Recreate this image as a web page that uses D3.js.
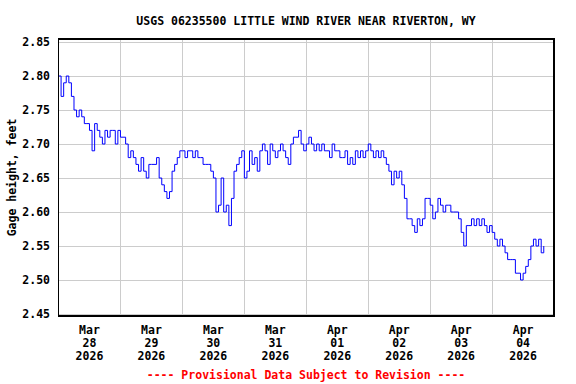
<!DOCTYPE html>
<html>
<head>
<meta charset="utf-8">
<script src="https://cdn.jsdelivr.net/npm/d3@7"></script>
<style>
  body { margin: 0; background: #fff; }
  text { font-family: "DejaVu Sans Mono", "Liberation Mono", monospace; font-weight: bold; font-size: 11.5px; fill: #000; }
  .grid line { stroke: #cccccc; stroke-width: 1; shape-rendering: crispEdges; }
  .frame { fill: none; stroke: #000; stroke-width: 1.2; shape-rendering: crispEdges; }
  .gage { fill: none; stroke: #0000ff; stroke-width: 1; }
  .footer { fill: #ff0000; }
</style>
</head>
<body>
<script>
//Global variables
const width = 576;
const height = 384;
const plotLeft = 58.5, plotRight = 554.1;
const plotTop = 39, plotBottom = 316;
const parseTime = d3.timeParse("%Y-%m-%d");

//Data: hourly gage height (feet), one array per day
const dayStarts = ["2026-03-28", "2026-03-29", "2026-03-30", "2026-03-31",
                   "2026-04-01", "2026-04-02", "2026-04-03", "2026-04-04"];
const gageMar28 = [2.80, 2.77, 2.79, 2.80, 2.79, 2.77, 2.75, 2.74, 2.75, 2.74, 2.73, 2.73,
                   2.72, 2.69, 2.73, 2.72, 2.71, 2.70, 2.72, 2.71, 2.72, 2.72, 2.70, 2.72];
const gageMar29 = [2.71, 2.71, 2.70, 2.68, 2.69, 2.68, 2.67, 2.66, 2.68, 2.66, 2.65, 2.67,
                   2.67, 2.67, 2.68, 2.65, 2.64, 2.63, 2.62, 2.63, 2.66, 2.67, 2.68, 2.69];
const gageMar30 = [2.69, 2.68, 2.69, 2.69, 2.68, 2.69, 2.68, 2.68, 2.67, 2.67, 2.67, 2.66,
                   2.65, 2.60, 2.61, 2.65, 2.60, 2.61, 2.58, 2.62, 2.66, 2.67, 2.68, 2.69];
const gageMar31 = [2.65, 2.66, 2.69, 2.67, 2.68, 2.66, 2.69, 2.70, 2.69, 2.67, 2.70, 2.69,
                   2.68, 2.69, 2.70, 2.69, 2.68, 2.67, 2.70, 2.71, 2.71, 2.72, 2.70, 2.69];
const gageApr01 = [2.70, 2.71, 2.70, 2.69, 2.70, 2.69, 2.70, 2.69, 2.69, 2.68, 2.70, 2.69,
                   2.69, 2.68, 2.68, 2.69, 2.67, 2.68, 2.67, 2.69, 2.68, 2.69, 2.68, 2.69];
const gageApr02 = [2.70, 2.69, 2.68, 2.69, 2.68, 2.69, 2.68, 2.67, 2.66, 2.64, 2.66, 2.65,
                   2.66, 2.64, 2.62, 2.59, 2.59, 2.58, 2.57, 2.59, 2.58, 2.59, 2.62, 2.62];
const gageApr03 = [2.61, 2.59, 2.60, 2.62, 2.61, 2.60, 2.61, 2.61, 2.60, 2.60, 2.60, 2.59,
                   2.57, 2.55, 2.58, 2.58, 2.59, 2.58, 2.59, 2.58, 2.59, 2.58, 2.57, 2.58];
const gageApr04 = [2.57, 2.56, 2.55, 2.56, 2.55, 2.54, 2.53, 2.53, 2.53, 2.51, 2.51, 2.50,
                   2.51, 2.52, 2.53, 2.55, 2.56, 2.55, 2.56, 2.54, 2.55];
const gageDays = [gageMar28, gageMar29, gageMar30, gageMar31, gageApr01, gageApr02, gageApr03, gageApr04];

//Tick labels
const yTicks = [2.45, 2.50, 2.55, 2.60, 2.65, 2.70, 2.75, 2.80, 2.85];
const xTickMonths = ["Mar", "Mar", "Mar", "Mar", "Apr", "Apr", "Apr", "Apr"];
const xTickDays = ["28", "29", "30", "31", "01", "02", "03", "04"];
const xTickYears = ["2026", "2026", "2026", "2026", "2026", "2026", "2026", "2026"];

const title = "USGS 06235500 LITTLE WIND RIVER NEAR RIVERTON, WY";
const yLabel = "Gage height, feet";
const footer = "---- Provisional Data Subject to Revision ----";

//Build point list
const data = [];
gageDays.forEach((vals, i) => {
    const start = parseTime(dayStarts[i]);
    vals.forEach((v, h) => data.push({ time: d3.timeHour.offset(start, h), value: v }));
});

//Scales
const xStart = parseTime(dayStarts[0]);
const xEnd = d3.timeDay.offset(parseTime(dayStarts[dayStarts.length - 1]), 1);
const xScale = d3.scaleTime()
    .domain([xStart, xEnd])
    .range([plotLeft, plotRight]);

const yScale = d3.scaleLinear()
    .domain([2.45, 2.85])
    .range([314, 42]);

//SVG element
const svg = d3.select("body")
    .append("svg")
    .attr("width", width)
    .attr("height", height);

//Gridlines
const dayTicks = d3.timeDay.range(d3.timeDay.offset(xStart, 1), xEnd);
const grid = svg.append("g").attr("class", "grid");
grid.selectAll(".vgrid")
    .data(dayTicks)
    .join("line")
    .attr("x1", d => Math.round(xScale(d)) + 0.5)
    .attr("x2", d => Math.round(xScale(d)) + 0.5)
    .attr("y1", plotTop)
    .attr("y2", plotBottom);
grid.selectAll(".hgrid")
    .data(yTicks)
    .join("line")
    .attr("x1", plotLeft)
    .attr("x2", plotRight)
    .attr("y1", d => Math.round(yScale(d)) + 0.5)
    .attr("y2", d => Math.round(yScale(d)) + 0.5);

//Line
const line = d3.line()
    .x(d => xScale(d.time))
    .y(d => yScale(d.value))
    .curve(d3.curveStepAfter);

svg.append("path")
    .datum(data)
    .attr("class", "gage")
    .attr("d", line);

//Frame
svg.append("rect")
    .attr("class", "frame")
    .attr("x", plotLeft)
    .attr("y", plotTop)
    .attr("width", plotRight - plotLeft)
    .attr("height", plotBottom - plotTop);

//Y tick labels
svg.selectAll(".ytick")
    .data(yTicks)
    .join("text")
    .attr("x", 50)
    .attr("y", d => yScale(d) + 4)
    .attr("text-anchor", "end")
    .text(d => d.toFixed(2));

//X tick labels, centred at noon of each day
const xTicks = svg.selectAll(".xtick")
    .data(dayStarts)
    .join("text")
    .attr("text-anchor", "middle");
xTicks.each(function(d, i) {
    const cx = xScale(d3.timeHour.offset(parseTime(d), 12));
    const t = d3.select(this);
    t.append("tspan").attr("x", cx).attr("y", 334).text(xTickMonths[i]);
    t.append("tspan").attr("x", cx).attr("y", 347).text(xTickDays[i]);
    t.append("tspan").attr("x", cx).attr("y", 360).text(xTickYears[i]);
});

//Title
svg.append("text")
    .attr("x", 306)
    .attr("y", 25)
    .attr("text-anchor", "middle")
    .text(title);

//Y axis label
svg.append("text")
    .attr("transform", "translate(16," + ((plotTop + plotBottom) / 2) + ") rotate(-90)")
    .attr("text-anchor", "middle")
    .text(yLabel);

//Footer
svg.append("text")
    .attr("class", "footer")
    .attr("x", 306)
    .attr("y", 379)
    .attr("text-anchor", "middle")
    .text(footer);
</script>
</body>
</html>
